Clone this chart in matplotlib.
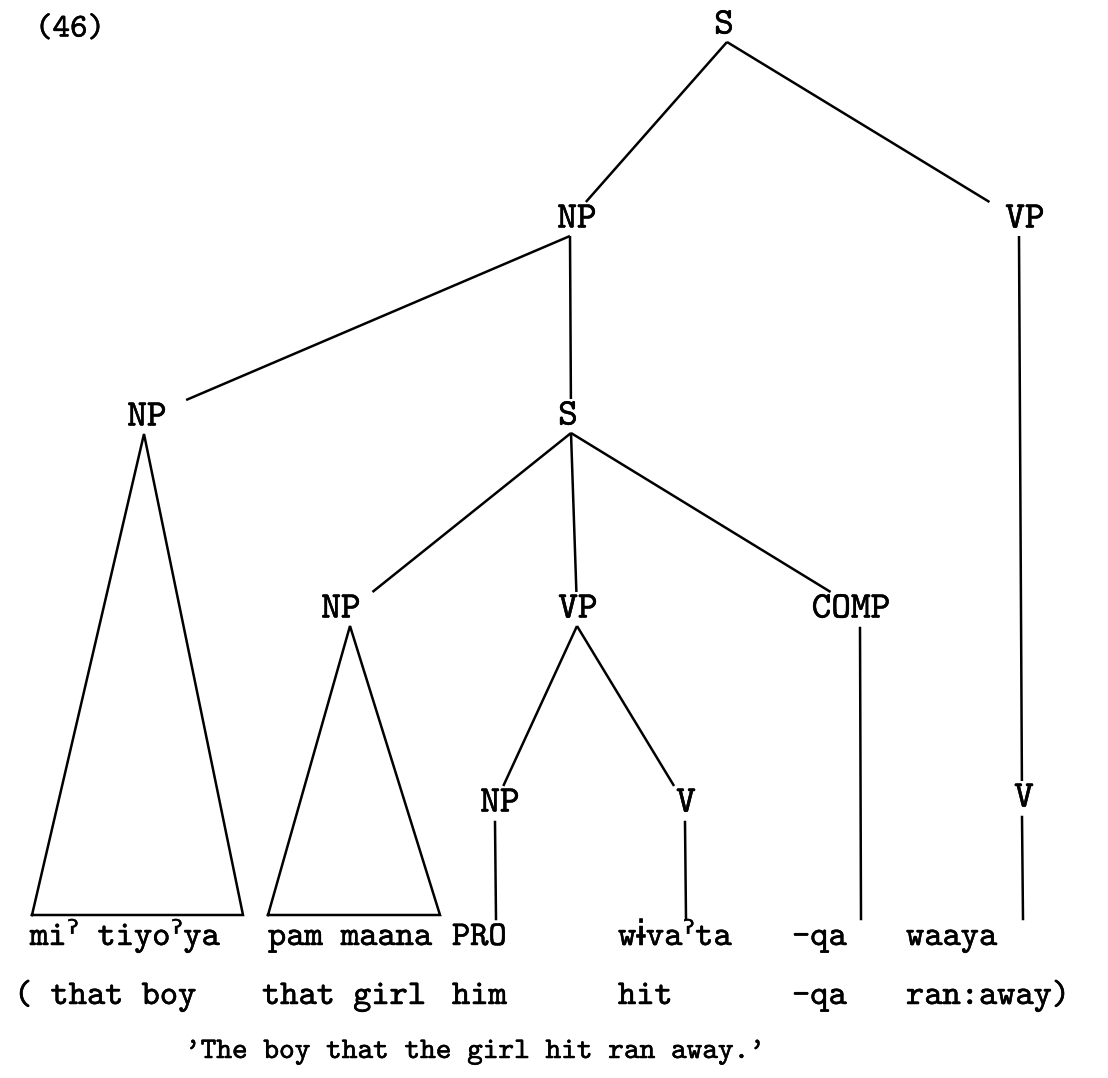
import matplotlib
matplotlib.use('Agg')
import matplotlib.pyplot as plt
import matplotlib.patheffects as pe

W, H = 1108, 1078
FAM = ['cmtt10', 'DejaVu Sans', 'DejaVu Sans Mono']

# ---- tree data ----
node_labels = ['S', 'NP', 'VP', 'NP', 'S', 'NP', 'VP', 'COMP', 'NP', 'V', 'V']
node_label_x = [724, 577, 1025, 147, 568, 341, 578, 851, 500, 686, 1024]
node_label_y = [26, 220, 220, 418, 417, 610, 610, 610, 804, 804, 799]
node_anchor_x = [727, 570, 1019, 144, 571, 350, 577, 860, 495, 685, 1022]
edges = [(0, 1), (0, 2), (1, 3), (1, 4), (4, 5), (4, 6), (4, 7), (6, 8), (6, 9), (2, 10)]

# triangle (roof) nodes and the span of their base
roof_nodes = [3, 5]
roof_base_left = [32, 268]
roof_base_right = [243, 440]

# nodes that dominate a single word with a straight line
leaf_nodes = [8, 9, 7, 10]

# words, glosses, translation
words = ['miˀ tiyoˀya', 'pam maana', 'PRO', 'wɨvaˀta', '-qa', 'waaya']
word_x = [30, 268, 452, 618, 792, 906]
glosses = ['( that boy', 'that girl', 'him', 'hit', '-qa', 'ran:away)']
gloss_x = [14, 262, 452, 618, 792, 906]
translation = "'The boy that the girl hit ran away.'"
example_no = '(46)'

fig = plt.figure(figsize=(W / 100, H / 100), dpi=100)
ax = fig.add_axes([0, 0, 1, 1])
ax.set_xlim(0, W)
ax.set_ylim(H, 0)
ax.axis('off')

LW = 1.8
below = 16
above = 18
base_y = 915
leaf_end = 919
bold = [pe.withStroke(linewidth=0.35, foreground='black')]

for p, c in edges:
    x0, y0 = node_anchor_x[p], node_label_y[p] + below
    xc, yc = node_anchor_x[c], node_label_y[c]
    y1 = yc - above
    t = (y1 - y0) / (yc - y0)
    x1 = x0 + (xc - x0) * t
    ax.plot([x0, x1], [y0, y1], color='black', lw=LW, solid_capstyle='butt')

for n, bl, br in zip(roof_nodes, roof_base_left, roof_base_right):
    ax_x, ay = node_anchor_x[n], node_label_y[n] + below
    ax.plot([bl, ax_x, br, bl], [base_y, ay, base_y, base_y], color='black', lw=LW,
            solid_joinstyle='miter')

for n in leaf_nodes:
    x = node_anchor_x[n]
    ax.plot([x, x + 1], [node_label_y[n] + 18, leaf_end], color='black', lw=LW)

for lab, x, y in zip(node_labels, node_label_x, node_label_y):
    ax.text(x, y, lab, family=FAM, fontsize=27, ha='center', va='center', color='black',
            path_effects=bold)

for w, x in zip(words, word_x):
    ax.text(x, 945, w, family=FAM, fontsize=25, ha='left', va='baseline', color='black',
            path_effects=bold)

for g, x in zip(glosses, gloss_x):
    ax.text(x, 1004, g, family=FAM, fontsize=25, ha='left', va='baseline', color='black',
            path_effects=bold)

ax.text(185, 1058, translation, family=FAM, fontsize=21.5, ha='left', va='baseline',
        color='black', path_effects=bold)
ax.text(35, 30, example_no, family=FAM, fontsize=24, ha='left', va='center', color='black',
        path_effects=bold)

fig.savefig('out.png', dpi=100, facecolor='white')
